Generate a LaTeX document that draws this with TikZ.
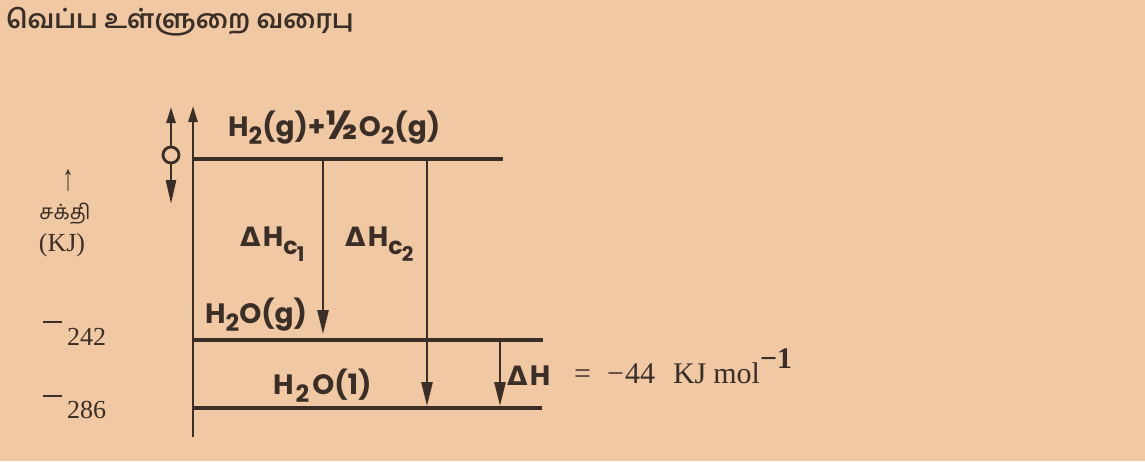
\documentclass[tikz,border=0pt]{standalone}
\usepackage{fontspec}
\usetikzlibrary{arrows.meta}
\newfontfamily\tamil[Script=Tamil]{Hind Madurai}
\newfontfamily\geo{Poppins}
\newfontfamily\dlt{DejaVu Sans}
\newfontfamily\serifx{Liberation Serif}
\definecolor{paper}{HTML}{F0C8A4}
\definecolor{ink}{HTML}{3A2E26}
\newcommand\sbx[1]{\raisebox{-0.28em}{\scalebox{0.85}{#1}}}
\newcommand\dd{{\dlt\bfseries\scalebox{0.95}{Δ}}\kern2pt}
\newcommand\half{\raisebox{-0.1em}{\scalebox{1.45}{½}}}
\tikzset{
  level/.style={line width=3.6pt, color=ink},
  axisline/.style={line width=2.6pt, color=ink},
  downarrow/.style={line width=2.6pt, color=ink, -{Triangle[length=24pt,width=11pt]}},
  chem/.style={text=ink, font=\geo\bfseries\fontsize{28}{30}\selectfont, inner sep=0pt},
  lab/.style={text=ink, font=\serifx\fontsize{30}{32}\selectfont, inner sep=0pt},
  tam/.style={text=ink, font=\tamil\fontsize{19}{22}\selectfont, inner sep=0pt}
}
\begin{document}
\begin{tikzpicture}[x=1pt,y=-1pt]
\fill[paper] (0,0) rectangle (1145,461);
\useasboundingbox (0,0) rectangle (1145,461);
% title
\node[tam, font=\tamil\bfseries\fontsize{26}{28}\selectfont, anchor=west] (title) at (6,22) {வெப்ப உள்ளுறை வரைபு};
% axis
\coordinate (axb) at (193,437);
\coordinate (axt) at (193,106);
\draw[axisline, -{Triangle[length=16pt,width=9pt]}] (axb) -- (axt);
% small symbol left of axis
\node[draw=ink, line width=2.8pt, circle, minimum size=16pt, inner sep=0pt] (circ) at (171,155) {};
\coordinate (symt) at (171,107);
\coordinate (symb) at (171,204);
\draw[axisline, -{Triangle[length=16pt,width=9pt]}] (circ.north) -- (symt);
\draw[axisline, -{Triangle[length=24pt,width=10pt]}] (circ.south) -- (symb);
% levels
\coordinate (l1a) at (193,159); \coordinate (l1b) at (503,159);
\coordinate (l2a) at (193,340); \coordinate (l2b) at (543,340);
\coordinate (l3a) at (193,408); \coordinate (l3b) at (542,408);
\draw[level] (l1a) -- (l1b);
\draw[level] (l2a) -- (l2b);
\draw[level] (l3a) -- (l3b);
% arrows
\coordinate (a1t) at (323,159); \coordinate (a1b) at (323,334);
\coordinate (a2t) at (427,159); \coordinate (a2b) at (427,406);
\coordinate (a3t) at (500,340); \coordinate (a3b) at (500,406);
\draw[downarrow] (a1t) -- (a1b);
\draw[downarrow] (a2t) -- (a2b);
\draw[downarrow] (a3t) -- (a3b);
% chem labels
\node[chem, anchor=west] (top) at (228,128) {H\sbx{2}(g)+\half O\sbx{2}(g)};
\node[chem, anchor=west] (hc1) at (240,244) {\dd H\sbx{c\kern-1pt\sbx{1}}};
\node[chem, anchor=west] (hc2) at (345,244) {\dd H\sbx{c\kern-1pt\sbx{2}}};
\node[chem, anchor=west] (h2og) at (205,315) {H\sbx{2}O(g)};
\node[chem, anchor=west] (h2ol) at (273,386) {H\kern2pt\sbx{2}\kern3pt O(1)};
\node[chem, anchor=west] (dh) at (507,376) {\dd H};
\node[lab, anchor=base west] (val) at (574,383) {=\hspace{16pt}−\kern1pt44\hspace{18pt}KJ\hspace{7pt}mol\raisebox{0.5em}{\bfseries −1}};
% left axis labels
\node[tam, font=\serifx\fontsize{22}{22}\selectfont] (up) at (68,181) {\scalebox{1}[1.7]{↑}};
\node[tam, font=\tamil\fontsize{21}{22}\selectfont] (sakthi) at (65,214) {சக்தி};
\node[lab, font=\serifx\fontsize{26}{28}\selectfont] (kj) at (62,245) {(KJ)};
\node[lab, font=\serifx\fontsize{26}{28}\selectfont, anchor=base west] (v242) at (43,345) {\raisebox{22pt}{\rule{19pt}{2.2pt}}\kern5pt 242};
\node[lab, font=\serifx\fontsize{26}{28}\selectfont, anchor=base west] (v286) at (43,418) {\raisebox{21pt}{\rule{19pt}{2.2pt}}\kern5pt 286};
\end{tikzpicture}
\end{document}
